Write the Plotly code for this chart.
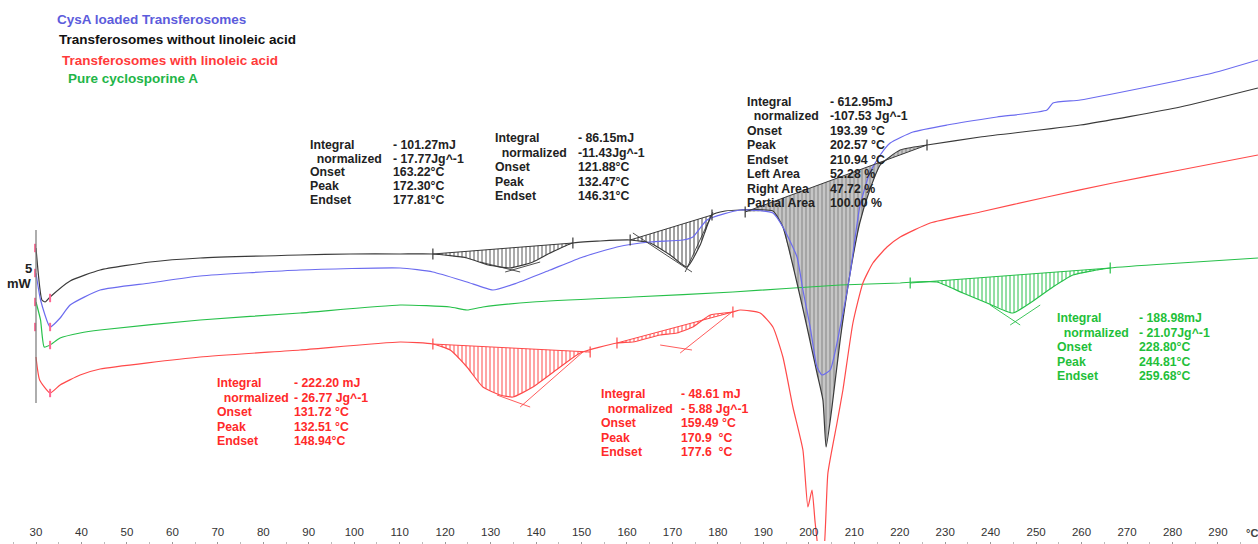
import plotly.graph_objects as go

# ---------------- data (T in °C, heat flow in mW, arbitrary offset) -------------
t_black = [30.0, 31.3, 32.0, 33.1, 37.5, 44.1, 55.1, 66.1, 88.1, 99.1, 110.1, 117.3, 124.8, 129.5, 134.3,
           139.3, 143.1, 148.1, 154.1, 160.7, 165.1, 169.5, 173.2, 176.1, 178.7, 181.6, 184.9, 192.1, 194.3,
           197.4, 199.6, 201.8, 203.1, 203.8, 205.1, 206.9, 209.1, 211.2, 213.4, 215.7, 220.1, 226.0, 237.7,
           259.7, 281.7, 298.8]
hf_black = [7.60, 5.00, 4.90, 5.15, 5.95, 6.50, 6.90, 7.10, 7.25, 7.30, 7.30, 7.30, 7.10, 6.75, 6.60,
            6.90, 7.35, 7.85, 7.95, 8.00, 7.85, 7.25, 6.65, 7.75, 9.25, 9.45, 9.50, 9.45, 8.65,
            5.85, 3.65, 1.35, 0.00, -2.35, -0.35, 3.00, 6.35, 8.85, 10.50, 11.75, 12.50, 12.75, 13.15,
            13.75, 14.65, 15.60]

t_blue = [30.0, 31.0, 33.1, 35.3, 37.5, 44.1, 55.1, 66.1, 88.1, 110.1, 117.3, 124.8, 130.5, 135.8, 143.1,
          150.3, 157.8, 165.1, 172.3, 174.5, 177.6, 184.9, 192.1, 194.3, 197.4, 198.7, 200.3, 201.8, 202.9,
          204.7, 206.9, 209.1, 211.2, 213.4, 215.7, 217.9, 222.9, 230.4, 241.4, 252.4, 253.7, 259.7, 274.4,
          288.9, 298.8]
hf_blue = [6.35, 5.00, 3.65, 4.10, 4.75, 5.50, 5.85, 6.20, 6.50, 6.60, 6.40, 5.90, 5.50, 5.85, 6.50,
           7.15, 7.65, 7.90, 8.00, 8.15, 9.00, 9.50, 9.35, 8.65, 7.15, 5.50, 3.65, 1.65, 1.25,
           1.50, 3.65, 6.35, 9.65, 11.35, 12.25, 12.85, 13.40, 13.75, 14.15, 14.50, 14.85, 15.00, 15.65,
           16.35, 17.00]

t_red = [30.0, 30.8, 33.1, 35.3, 39.7, 44.1, 66.1, 88.1, 110.1, 117.3, 121.1, 124.8, 128.3, 132.1, 134.9,
         139.3, 145.3, 149.7, 157.8, 161.3, 167.3, 171.0, 174.5, 178.3, 183.3, 184.9, 189.3, 192.1, 194.3,
         196.5, 198.7, 199.8, 200.7, 201.4, 202.5, 203.1, 204.2, 206.2, 207.5, 209.7, 211.9, 214.1, 217.2,
         220.1, 226.7, 237.7, 252.4, 266.9, 281.7, 298.8]
hf_red = [2.15, 1.00, 0.35, 0.75, 1.25, 1.55, 2.15, 2.50, 2.90, 2.80, 2.50, 1.65, 0.65, 0.25, 0.15,
          0.65, 1.65, 2.35, 2.85, 2.90, 3.25, 3.35, 3.65, 4.25, 4.40, 4.50, 4.35, 3.65, 2.15,
          -0.35, -2.50, -5.35, -4.50, -6.15, -8.00, -8.00, -3.65, -1.15, 0.50, 3.85, 5.85, 6.85, 7.65,
          8.15, 8.85, 9.40, 10.15, 10.85, 11.50, 12.25]

t_green = [30.0, 31.0, 31.8, 33.1, 35.3, 39.7, 44.1, 66.1, 88.1, 110.1, 121.1, 124.8, 128.3, 139.3, 161.3,
           183.3, 206.9, 220.1, 222.9, 228.2, 233.9, 239.2, 244.9, 248.7, 253.7, 258.1, 266.3, 281.7, 298.8]
hf_green = [4.90, 4.00, 2.65, 2.75, 3.10, 3.35, 3.50, 4.00, 4.35, 4.75, 4.65, 4.50, 4.65, 4.90, 5.15,
            5.40, 5.75, 5.85, 5.90, 5.90, 5.35, 4.85, 4.35, 4.85, 5.65, 6.25, 6.60, 6.85, 7.10]

# integration baselines: (T start, HF start, T end, HF end)
base_black_a = (117.3, 7.30, 148.1, 7.85)
base_black_b = (160.7, 8.00, 178.7, 9.25)
base_black_c = (186.0, 9.40, 226.0, 12.75)
base_red_a = (117.3, 2.80, 151.9, 2.40)
base_red_b = (157.8, 2.85, 183.3, 4.40)
base_green = (222.3, 5.85, 266.3, 6.60)

# tangent construction lines (T1, HF1, T2, HF2)
tan_black = [(127.7, 6.9, 136.5, 6.4), (140.9, 6.9, 133.2, 6.4),
             (161.3, 8.35, 174.3, 6.40), (178.9, 9.40, 172.8, 6.40)]
tan_red = [(150.3, 2.40, 136.5, -0.35), (131.4, 0.25, 138.7, -0.35),
           (183.1, 4.40, 171.7, 2.35), (167.3, 2.75, 174.3, 2.50)]
tan_green = [(239.9, 4.75, 246.5, 3.75), (250.9, 4.75, 244.3, 3.75)]

start_mark_t = [29.8, 29.8, 29.8, 29.8, 33.1, 33.1, 33.1, 33.1]
start_mark_hf = [7.60, 6.35, 4.90, 3.65, 5.10, 3.65, 2.75, 0.35]

tick_vals = list(range(30, 300, 10))
tick_text = [str(v) for v in tick_vals]

legend_names = ["CysA loaded Transferosomes", "Transferosomes without linoleic acid",
                "Transferosomes with linoleic acid", "Pure cyclosporine A"]

labels5 = ["Integral", "\u00a0\u00a0normalized", "Onset", "Peak", "Endset"]
labels8 = labels5 + ["Left Area", "Right Area", "Partial Area"]
vals_black_a = ["- 101.27mJ", "- 17.77Jg^-1", "163.22°C", "172.30°C", "177.81°C"]
vals_black_b = ["- 86.15mJ", "-11.43Jg^-1", "121.88°C", "132.47°C", "146.31°C"]
vals_black_c = ["- 612.95mJ", "-107.53 Jg^-1", "193.39 °C", "202.57 °C", "210.94 °C",
                "52.28 %", "47.72 %", "100.00 %"]
vals_red_a = ["- 222.20 mJ", "- 26.77 Jg^-1", "131.72 °C", "132.51 °C", "148.94°C"]
vals_red_b = ["- 48.61 mJ", "- 5.88 Jg^-1", "159.49 °C", "170.9  °C", "177.6  °C"]
vals_green = ["- 188.98mJ", "- 21.07Jg^-1", "228.80°C", "244.81°C", "259.68°C"]

# ---------------- styling ----------------
C_BLUE = "#6b6bef"
C_BLACK = "#3a3a3a"
C_RED = "#ff4a4a"
C_GREEN = "#27c04a"
T_RED = "#ff2a2a"
T_GREEN = "#1fbf3a"

W, H, PLOT_H = 1258, 544, 541
X0, X1 = 22.08, 298.81
Y0, Y1 = -7.05, 20.0

fig = go.Figure()


def add_fill(t, hf, base, fg, bg=None, overlay=False):
    t0, h0, t1, h1 = base
    seg_t = [x for x in t if t0 < x < t1]
    seg_h = [h for x, h in zip(t, hf) if t0 < x < t1]
    px = [t0] + seg_t + [t1, t0]
    py = [h0] + seg_h + [h1, h0]
    fig.add_trace(go.Scatter(
        x=px, y=py, mode="lines", fill="toself", line=dict(width=0),
        fillcolor=bg if bg else "rgba(255,255,255,0)",
        fillpattern=dict(shape="|", fgcolor=fg, size=4, solidity=0.25,
                         fillmode="overlay" if overlay else "replace"),
        hoverinfo="skip", showlegend=False))


def add_base(base, color):
    t0, h0, t1, h1 = base
    fig.add_trace(go.Scatter(x=[t0, t1], y=[h0, h1], mode="lines+markers",
                             line=dict(color=color, width=1),
                             marker=dict(symbol="line-ns-open", size=8, line=dict(color=color, width=1.2)),
                             hoverinfo="skip", showlegend=False))


def add_tans(tans, color):
    for a, b, c, d in tans:
        fig.add_trace(go.Scatter(x=[a, c], y=[b, d], mode="lines", line=dict(color=color, width=0.9),
                                 hoverinfo="skip", showlegend=False))


add_fill(t_black, hf_black, base_black_a, "#555555")
add_fill(t_black, hf_black, base_black_b, "#444444")
add_fill(t_black, hf_black, base_black_c, "#444444", bg="rgba(150,150,150,0.55)", overlay=True)
add_fill(t_red, hf_red, base_red_a, C_RED)
add_fill(t_red, hf_red, base_red_b, C_RED)
add_fill(t_green, hf_green, base_green, C_GREEN)

for tt, hh, col in [(t_green, hf_green, C_GREEN), (t_red, hf_red, C_RED),
                    (t_black, hf_black, C_BLACK), (t_blue, hf_blue, C_BLUE)]:
    fig.add_trace(go.Scatter(x=tt, y=hh, mode="lines",
                             line=dict(color=col, width=1.2, shape="spline", smoothing=0.5),
                             hoverinfo="skip", showlegend=False))

for b, col in [(base_black_a, C_BLACK), (base_black_b, C_BLACK), (base_black_c, C_BLACK),
               (base_red_a, C_RED), (base_red_b, C_RED), (base_green, C_GREEN)]:
    add_base(b, col)
add_tans(tan_black, C_BLACK)
add_tans(tan_red, C_RED)
add_tans(tan_green, C_GREEN)

fig.add_trace(go.Scatter(x=start_mark_t, y=start_mark_hf, mode="markers",
                         marker=dict(symbol="line-ns-open", size=6, line=dict(color="#ff3030", width=2)),
                         hoverinfo="skip", showlegend=False))

# left scale line
fig.add_shape(type="line", xref="x", yref="y", x0=30, x1=30, y0=8.5, y1=-0.15,
              line=dict(color="#777777", width=1.2))


def P(x, y):
    return x / W, 1 - y / PLOT_H


anns = []
FONT = "Arial"


def txt(x, y, s, color, size, xanchor="left"):
    px, py = P(x, y)
    anns.append(dict(x=px, y=py, xref="paper", yref="paper", xanchor=xanchor, yanchor="middle",
                     text="<b>" + s + "</b>", showarrow=False, font=dict(family=FONT, size=size, color=color)))


for name, col, (lx, ly) in zip(legend_names, ["#5c5cdc", "#111111", "#ff3a3a", "#22b548"],
                               [(55, 19), (57, 39), (60, 61), (66, 79)]):
    txt(lx, ly, name, col, 13.5)


def block(xl, xv, y0, step, labels, values, color):
    for i, s in enumerate(labels):
        txt(xl, y0 + i * step, s, color, 12.3)
    for i, s in enumerate(values):
        txt(xv, y0 + i * step, s, color, 12.3)


block(308, 391, 145, 13.75, labels5, vals_black_a, "#222222")
block(493, 576, 138, 14.5, labels5, vals_black_b, "#222222")
block(745, 828, 102, 14.43, labels8, vals_black_c, "#222222")
block(215, 292, 383, 14.5, labels5, vals_red_a, T_RED)
block(599, 679, 394, 14.5, labels5, vals_red_b, T_RED)
block(1055, 1137, 318, 14.5, labels5, vals_green, T_GREEN)

txt(34, 268, "5", "#222", 13, xanchor="right")
txt(34, 283, "mW", "#222", 13, xanchor="right")
txt(1244, 533, "°C", "#444", 11)

fig.update_layout(
    width=W, height=H, margin=dict(l=0, r=0, t=0, b=3),
    paper_bgcolor="white", plot_bgcolor="white", annotations=anns, showlegend=False,
)
fig.update_xaxes(range=[X0, X1], tickvals=tick_vals, ticktext=tick_text, ticklabelposition="inside",
                 ticks="outside", ticklen=3, tickcolor="#999999", showgrid=False, zeroline=False,
                 showline=False, tickfont=dict(family=FONT, size=11.5, color="#333333"),
                 minor=dict(ticks="outside", ticklen=2, dtick=5, tickcolor="#bbbbbb"))
fig.update_yaxes(range=[Y0, Y1], visible=False, showgrid=False, zeroline=False)

fig.write_html("out.html", config={"displayModeBar": False},
               post_script="document.body.style.margin='0';document.body.style.overflow='hidden';")
